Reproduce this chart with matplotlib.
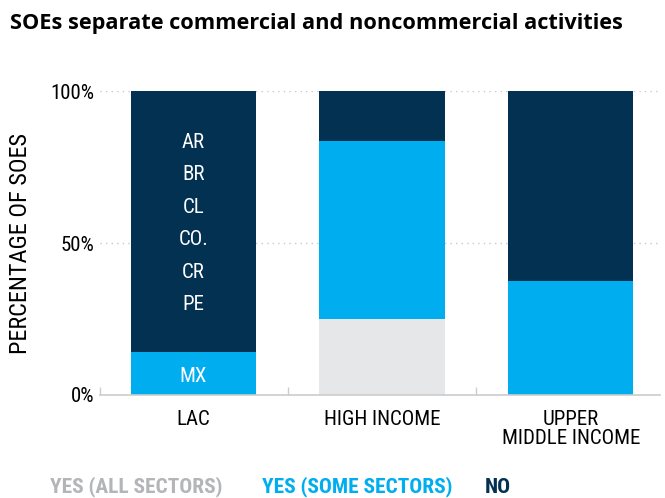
import matplotlib
matplotlib.use("Agg")
import matplotlib.pyplot as plt
from matplotlib import font_manager

categories = ["LAC", "HIGH INCOME", "UPPER\nMIDDLE INCOME"]
yes_all = [0, 25, 0]
yes_some = [14, 58.5, 37.5]
no_vals = [86, 16.5, 62.5]
lac_no_labels = ["AR", "BR", "CL", "CO.", "CR", "PE"]
lac_some_labels = ["MX"]
yticks = [0, 50, 100]
ytick_labels = ["0%", "50%", "100%"]
legend_labels = ["YES (ALL SECTORS)", "YES (SOME SECTORS)", "NO"]

c_all = "#e6e7e8"
c_some = "#00aeef"
c_no = "#033152"
c_all_txt = "#b3b5b8"

names = {f.name for f in font_manager.fontManager.ttflist}
narrow = None
for cand in ["Liberation Sans Narrow", "Roboto Condensed", "Open Sans Condensed", "DejaVu Sans Condensed"]:
    if cand in names:
        narrow = cand
        break
plt.rcParams['font.family'] = [narrow, 'DejaVu Sans'] if narrow else ['DejaVu Sans']
plt.rcParams['font.stretch'] = 'condensed'

fig = plt.figure(figsize=(6.65, 4.98), dpi=100)
ax = fig.add_axes([0.150, 0.207, 0.843, 0.610])

x = list(range(len(categories)))
w = 0.663
bottom_some = yes_all
bottom_no = [a + b for a, b in zip(yes_all, yes_some)]
ax.bar(x, yes_all, w, color=c_all, zorder=2)
ax.bar(x, yes_some, w, bottom=bottom_some, color=c_some, zorder=2)
ax.bar(x, no_vals, w, bottom=bottom_no, color=c_no, zorder=2)

n = len(lac_no_labels)
top = bottom_no[0] + no_vals[0]
span_top, span_bot = top - 16.8, bottom_no[0] + 15.6
for i, lab in enumerate(lac_no_labels):
    yy = span_top - i * (span_top - span_bot) / (n - 1)
    ax.text(0, yy, lab, ha="center", va="center", color="white", fontsize=15)
for lab in lac_some_labels:
    ax.text(0, bottom_some[0] + yes_some[0] / 2 - 0.8, lab, ha="center", va="center", color="white", fontsize=15)

ax.set_xlim(-0.496, 2.475)
ax.set_ylim(0, 100)
ax.set_yticks(yticks)
ax.set_yticklabels(ytick_labels, fontsize=15)
ax.set_xticks(x)
ax.set_xticklabels(categories, fontsize=15, linespacing=1.0, va="top")
ax.tick_params(axis="x", length=0, pad=11)
ax.tick_params(axis="y", length=0, pad=4)
ax.set_xticks([-0.496, 0.5, 1.5], minor=True)
ax.tick_params(axis="x", which="minor", direction="in", length=6, color="#cccccc", width=1)

for yv in [50, 100]:
    ax.axhline(yv, color="#c8c8c8", linestyle=(0, (1, 3)), linewidth=1, zorder=1)

for s in ["top", "right", "left"]:
    ax.spines[s].set_visible(False)
ax.spines["bottom"].set_color("#cccccc")
ax.spines["bottom"].set_linewidth(1.2)

ax.set_ylabel("PERCENTAGE OF SOES", fontsize=17.5)
ax.yaxis.set_label_coords(-0.12, 0.5)

fig.text(0.015, 0.953, "SOEs separate commercial and noncommercial activities",
         fontsize=15.7, fontweight="bold", family=["Open Sans", "DejaVu Sans"], fontstretch="normal",
         ha="left", va="center")

leg_x = [0.075, 0.394, 0.729]
leg_c = [c_all_txt, c_some, c_no]
for lx, lab, col in zip(leg_x, legend_labels, leg_c):
    fig.text(lx, 0.022, lab, color=col, fontsize=15.4, fontweight="bold", ha="left", va="center")

fig.savefig("out.png", dpi=100)
